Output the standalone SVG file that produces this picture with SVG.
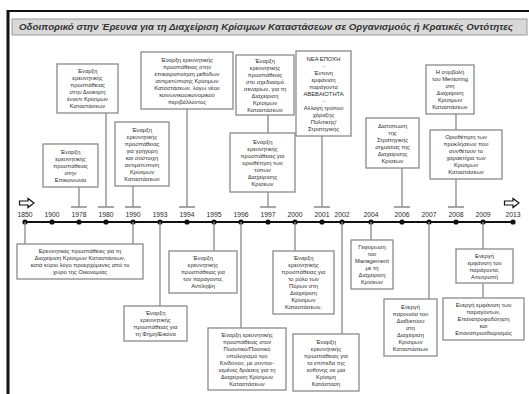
<svg xmlns="http://www.w3.org/2000/svg" width="529" height="394" viewBox="0 0 529 394">
<defs>
<style>
.bx{fill:#fff;stroke:#8a8a8a;stroke-width:1.3}
.t{font-family:"Liberation Sans",Arial,sans-serif;font-size:5.8px;fill:#2a2a2a;text-anchor:middle}
.yr{font-family:"Liberation Sans",Arial,sans-serif;font-size:6.8px;fill:#2a2a2a;text-anchor:middle}
.st{stroke:#8a8a8a;stroke-width:1.3;fill:none}
.tk{stroke:#8a8a8a;stroke-width:1.3}
.dot{fill:#111}
.arr{fill:#fff;stroke:#111;stroke-width:1.2}
</style>
</defs>
<rect width="529" height="394" fill="#fff"/>
<!-- frame -->
<line x1="7" y1="11" x2="529" y2="11" stroke="#111" stroke-width="2.2"/>
<line x1="8" y1="10" x2="8" y2="394" stroke="#111" stroke-width="3"/>
<g id="title">
<rect x="12" y="19" width="515" height="16" fill="#d9d9d9" stroke="#9a9a9a" stroke-width="1"/>
<text x="266" y="30.3" font-family="'Liberation Sans',Arial,sans-serif" font-size="9" font-weight="bold" font-style="italic" fill="#333" text-anchor="middle" textLength="494" lengthAdjust="spacingAndGlyphs">Οδοιπορικό  στην  Έρευνα για τη Διαχείριση Κρίσιμων Καταστάσεων σε Οργανισμούς ή Κρατικές Οντότητες</text>
</g>
<g id="timeline">
<line x1="25" y1="222" x2="513" y2="222" stroke="#111" stroke-width="2"/>
<path class="arr" d="M19.5,201 H28 V198.5 L34,203 L28,207.5 V205 H19.5 Z"/>
<path class="arr" d="M504.5,201 H513 V198.5 L519,203 L513,207.5 V205 H504.5 Z"/>
<g class="dot">
<circle cx="25" cy="222" r="2.6"/><circle cx="52" cy="222" r="2.6"/><circle cx="79" cy="222" r="2.6"/><circle cx="106" cy="222" r="2.6"/><circle cx="133" cy="222" r="2.6"/><circle cx="160" cy="222" r="2.6"/><circle cx="187" cy="222" r="2.6"/><circle cx="214" cy="222" r="2.6"/><circle cx="241" cy="222" r="2.6"/><circle cx="268" cy="222" r="2.6"/><circle cx="295" cy="222" r="2.6"/><circle cx="322" cy="222" r="2.6"/><circle cx="342" cy="222" r="2.6"/><circle cx="371" cy="222" r="2.6"/><circle cx="402" cy="222" r="2.6"/><circle cx="429" cy="222" r="2.6"/><circle cx="456" cy="222" r="2.6"/><circle cx="483" cy="222" r="2.6"/><circle cx="513" cy="222" r="2.6"/>
</g>
<g class="yr">
<text x="25" y="217">1850</text><text x="52" y="217">1900</text><text x="79" y="217">1978</text><text x="106" y="217">1980</text><text x="133" y="217">1990</text><text x="160" y="217">1993</text><text x="187" y="217">1994</text><text x="214" y="217">1995</text><text x="241" y="217">1996</text><text x="268" y="217">1997</text><text x="295" y="217">2000</text><text x="322" y="217">2001</text><text x="342" y="217">2002</text><text x="371" y="217">2004</text><text x="402" y="217">2006</text><text x="429" y="217">2007</text><text x="456" y="217">2008</text><text x="483" y="217">2009</text><text x="513" y="217">2013</text>
</g>
</g>
<g id="connectors">
<!-- top stems with tick bars -->
<path class="st" d="M79,187 V207 M106,113 V207 M133,186 V207 M187,109 V207 M268,115 V133 M268,192 V207 M322,136 V207 M402,168 V207 M456,114 V130 M456,179 V207"/>
<path class="tk" d="M71,207 H87 M98,207 H114 M125,207 H141 M179,207 H195 M260,207 H276 M314,207 H330 M394,207 H410 M448,207 H464"/>
<!-- bottom stems -->
<path class="st" d="M25,222 V244 M133,222 V244 M160,222 V306 M214,222 V251 M241,222 V328 M295,222 V251 M342,222 V334 M371,222 V240 M429,222 V299 M483,222 V249 M483,283 V298"/>
</g>
<g id="n1978">
<rect class="bx" x="43" y="144" width="55" height="43"/>
<text class="t"><tspan x="70.5" y="153.6">Έναρξη</tspan><tspan x="70.5" y="160.6">ερευνητικής</tspan><tspan x="70.5" y="167.6">προσπάθειας</tspan><tspan x="70.5" y="174.6">στην</tspan><tspan x="70.5" y="181.6">Επικοινωνία</tspan></text>
</g>
<g id="n1980">
<rect class="bx" x="57" y="64" width="61" height="49"/>
<text class="t"><tspan x="87.5" y="73.1">Έναρξη</tspan><tspan x="87.5" y="80.1">ερευνητικής</tspan><tspan x="87.5" y="87.1">προσπάθειας</tspan><tspan x="87.5" y="94.1">στην Διοίκηση</tspan><tspan x="87.5" y="101.1">έναντι Κρίσιμων</tspan><tspan x="87.5" y="108.1">Καταστάσεων</tspan></text>
</g>
<g id="n1990">
<rect class="bx" x="115" y="122" width="54" height="64"/>
<text class="t"><tspan x="142" y="131.6">Έναρξη</tspan><tspan x="142" y="138.6">ερευνητικής</tspan><tspan x="142" y="145.6">προσπάθειας</tspan><tspan x="142" y="152.6">για γρήγορη</tspan><tspan x="142" y="159.6">και σύστοιχη</tspan><tspan x="142" y="166.6">αντιμετώπιση</tspan><tspan x="142" y="173.6">Κρίσιμων</tspan><tspan x="142" y="180.6">Καταστάσεων</tspan></text>
</g>
<g id="n1994">
<rect class="bx" x="141" y="52" width="92" height="57"/>
<text class="t"><tspan x="187" y="61.6">Έναρξη ερευνητικής</tspan><tspan x="187" y="68.6">προσπάθειας στην</tspan><tspan x="187" y="75.6">επικαιροποίηση μεθόδων</tspan><tspan x="187" y="82.6">αντιμετώπισης Κρίσιμων</tspan><tspan x="187" y="89.6">Καταστάσεων, λόγω νέου</tspan><tspan x="187" y="96.6">κοινωνικοοικονομικού</tspan><tspan x="187" y="103.6">περιβάλλοντος</tspan></text>
</g>
<g id="n1997a">
<rect class="bx" x="236" y="55" width="58" height="60"/>
<text class="t"><tspan x="265" y="62.6">Έναρξη</tspan><tspan x="265" y="69.6">ερευνητικής</tspan><tspan x="265" y="76.6">προσπάθειας</tspan><tspan x="265" y="83.6">στο σχεδιασμό</tspan><tspan x="265" y="90.6">σεναρίων, για τη</tspan><tspan x="265" y="97.6">Διαχείριση</tspan><tspan x="265" y="104.6">Κρίσιμων</tspan><tspan x="265" y="111.6">Καταστάσεων</tspan></text>
</g>
<g id="n1997b">
<rect class="bx" x="230" y="133" width="65" height="59"/>
<text class="t"><tspan x="262.5" y="143.6">Έναρξη</tspan><tspan x="262.5" y="150.6">ερευνητικής</tspan><tspan x="262.5" y="157.6">προσπάθειας για</tspan><tspan x="262.5" y="164.6">οριοθέτηση των</tspan><tspan x="262.5" y="171.6">τύπων</tspan><tspan x="262.5" y="178.6">Διαχείρισης</tspan><tspan x="262.5" y="185.6">Κρίσεων</tspan></text>
</g>
<g id="n2001">
<rect class="bx" x="296" y="51" width="55" height="85"/>
<text class="t"><tspan x="323.5" y="60.6">ΝΕΑ ΕΠΟΧΗ</tspan><tspan x="323.5" y="67.6">-</tspan><tspan x="323.5" y="74.6">Έντονη</tspan><tspan x="323.5" y="81.6">εμφάνιση</tspan><tspan x="323.5" y="88.6">παράγοντα</tspan><tspan x="323.5" y="95.6">ΑΒΕΒΑΙΟΤΗΤΑ</tspan><tspan x="323.5" y="102.6">-</tspan><tspan x="323.5" y="109.6">Αλλαγή  τρόπου</tspan><tspan x="323.5" y="116.6">χάραξης</tspan><tspan x="323.5" y="123.6">Πολιτικής/</tspan><tspan x="323.5" y="130.6">Στρατηγικής</tspan></text>
</g>
<g id="n2006">
<rect class="bx" x="366" y="118" width="53" height="50"/>
<text class="t"><tspan x="392.5" y="127.6">Διατύπωση</tspan><tspan x="392.5" y="134.6">της</tspan><tspan x="392.5" y="141.6">Στρατηγικής</tspan><tspan x="392.5" y="148.6">σημασίας της</tspan><tspan x="392.5" y="155.6">Διαχείρισης</tspan><tspan x="392.5" y="162.6">Κρίσεων</tspan></text>
</g>
<g id="n2008a">
<rect class="bx" x="426" y="65" width="48" height="49"/>
<text class="t"><tspan x="450" y="74.1">Η συμβολή</tspan><tspan x="450" y="81.1">του Mentoring</tspan><tspan x="450" y="88.1">στη</tspan><tspan x="450" y="95.1">Διαχείριση</tspan><tspan x="450" y="102.1">Κρίσιμων</tspan><tspan x="450" y="109.1">Καταστάσεων</tspan></text>
</g>
<g id="n2008b">
<rect class="bx" x="430" y="130" width="72" height="49"/>
<text class="t"><tspan x="466" y="139.1">Οριοθέτηση των</tspan><tspan x="466" y="146.1">προκλήσεων  που</tspan><tspan x="466" y="153.1">συνθέτουν  το</tspan><tspan x="466" y="160.1">χαρακτήρα των</tspan><tspan x="466" y="167.1">Κρίσιμων</tspan><tspan x="466" y="174.1">Καταστάσεων</tspan></text>
</g>
<g id="n1850">
<rect class="bx" x="17" y="244" width="126" height="35"/>
<text class="t"><tspan x="80" y="253.1">Ερευνητικές  προσπάθειες για  τη</tspan><tspan x="80" y="260.1">Διαχείριση Κρίσιμων Καταστάσεων,</tspan><tspan x="80" y="267.1">κατά κύριο λόγο  προερχόμενες από το</tspan><tspan x="80" y="274.1">χώρο της Οικονομίας</tspan></text>
</g>
<g id="n1993">
<rect class="bx" x="124" y="306" width="63" height="35"/>
<text class="t"><tspan x="155.5" y="315.1">Έναρξη</tspan><tspan x="155.5" y="322.1">ερευνητικής</tspan><tspan x="155.5" y="329.1">προσπάθειας για</tspan><tspan x="155.5" y="336.1">τη Φήμη/Εικόνα</tspan></text>
</g>
<g id="n1995">
<rect class="bx" x="169" y="251" width="68" height="42"/>
<text class="t"><tspan x="203" y="260.1">Έναρξη</tspan><tspan x="203" y="267.1">ερευνητικής</tspan><tspan x="203" y="274.1">προσπάθειας για</tspan><tspan x="203" y="281.1">τον παράγοντα,</tspan><tspan x="203" y="288.1">Αντίληψη</tspan></text>
</g>
<g id="n1996">
<rect class="bx" x="208" y="328" width="78" height="62"/>
<text class="t"><tspan x="247" y="336.6">Έναρξη ερευνητικής</tspan><tspan x="247" y="343.6">προσπάθειας στον</tspan><tspan x="247" y="350.6">Ποσοτικό/Ποιοτικό</tspan><tspan x="247" y="357.6">υπολογισμό  του</tspan><tspan x="247" y="364.6">Κινδύνου, με συντον-</tspan><tspan x="247" y="371.6">ισμένες δράσεις για τη</tspan><tspan x="247" y="378.6">Διαχείριση Κρίσιμων</tspan><tspan x="247" y="385.6">Καταστάσεων</tspan></text>
</g>
<g id="n2000">
<rect class="bx" x="273" y="251" width="61" height="63"/>
<text class="t"><tspan x="303.5" y="260.1">Έναρξη</tspan><tspan x="303.5" y="267.1">ερευνητικής</tspan><tspan x="303.5" y="274.1">προσπάθειας για</tspan><tspan x="303.5" y="281.1">το ρόλο των</tspan><tspan x="303.5" y="288.1">Πόρων στη</tspan><tspan x="303.5" y="295.1">Διαχείριση</tspan><tspan x="303.5" y="302.1">Κρίσιμων</tspan><tspan x="303.5" y="309.1">Καταστάσεων.</tspan></text>
</g>
<g id="n2002">
<rect class="bx" x="293" y="334" width="66" height="57"/>
<text class="t"><tspan x="326" y="343.6">Έναρξη</tspan><tspan x="326" y="350.6">ερευνητικής</tspan><tspan x="326" y="357.6">προσπάθειας για</tspan><tspan x="326" y="364.6">τα επίπεδα της</tspan><tspan x="326" y="371.6">ευθύνης σε μία</tspan><tspan x="326" y="378.6">Κρίσιμη</tspan><tspan x="326" y="385.6">Κατάσταση</tspan></text>
</g>
<g id="n2004">
<rect class="bx" x="351" y="240" width="42" height="49"/>
<text class="t"><tspan x="372" y="249.1">Γεφύρωση</tspan><tspan x="372" y="256.1">του</tspan><tspan x="372" y="263.1">Management</tspan><tspan x="372" y="270.1">με τη</tspan><tspan x="372" y="277.1">Διαχείριση</tspan><tspan x="372" y="284.1">Κρίσεων</tspan></text>
</g>
<g id="n2007">
<rect class="bx" x="384" y="299" width="53" height="57"/>
<text class="t"><tspan x="410.5" y="308.6">Ενεργή</tspan><tspan x="410.5" y="315.6">παρουσία του</tspan><tspan x="410.5" y="322.6">Διαδικτύου</tspan><tspan x="410.5" y="329.6">στη</tspan><tspan x="410.5" y="336.6">Διαχείριση</tspan><tspan x="410.5" y="343.6">Κρίσιμων</tspan><tspan x="410.5" y="350.6">Καταστάσεων</tspan></text>
</g>
<g id="n2009a">
<rect class="bx" x="456" y="249" width="57" height="34"/>
<text class="t"><tspan x="484.5" y="257.6">Ενεργή</tspan><tspan x="484.5" y="264.6">εμφάνιση του</tspan><tspan x="484.5" y="271.6">παράγοντα,</tspan><tspan x="484.5" y="278.6">Αποτροπή</tspan></text>
</g>
<g id="n2009b">
<rect class="bx" x="443" y="298" width="81" height="42"/>
<text class="t"><tspan x="483.5" y="307.1">Ενεργή εμφάνιση των</tspan><tspan x="483.5" y="314.1">παραγόντων,</tspan><tspan x="483.5" y="321.1">Επανατροφοδότηση</tspan><tspan x="483.5" y="328.1">και</tspan><tspan x="483.5" y="335.1">Επαναπροσδιορισμός</tspan></text>
</g>
</svg>
